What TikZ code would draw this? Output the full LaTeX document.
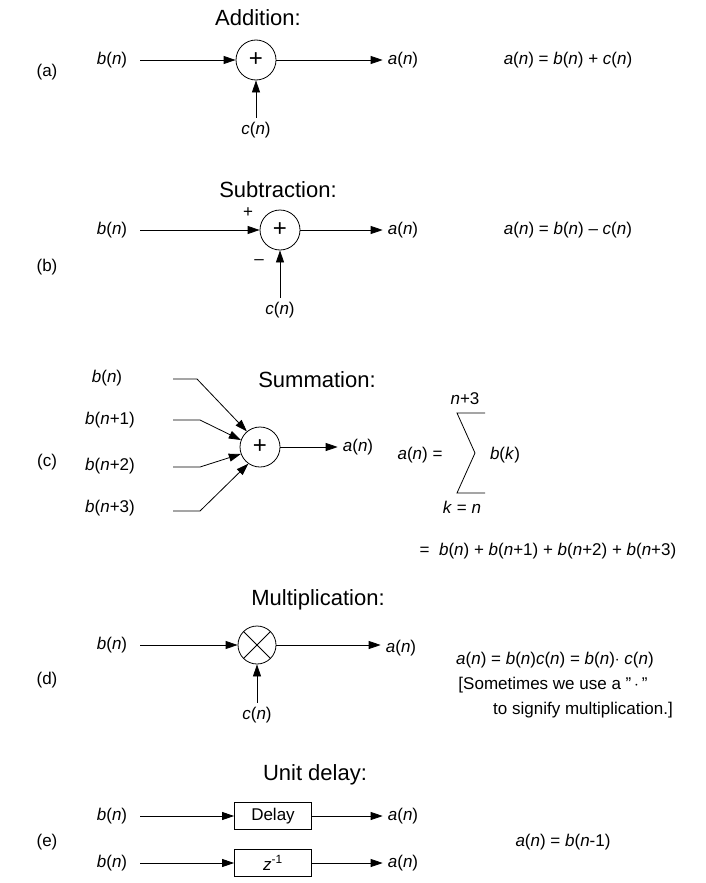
\documentclass[tikz,border=0pt]{standalone}
\usepackage{fontspec}
\setmainfont{Liberation Sans}
\usetikzlibrary{arrows.meta}
\newcommand{\vi}[1]{\textit{#1}}
\newcommand{\eqs}{\ =\ }
\newcommand{\pls}{\ +\ }
\begin{document}
\begin{tikzpicture}[x=1pt,y=-1pt,
 lbl/.style={font=\fontsize{17}{20}\selectfont,inner sep=1pt},
 ttl/.style={font=\fontsize{22}{24}\selectfont,inner sep=1pt},
 sumc/.style={circle,draw,minimum size=40pt,inner sep=0pt,font=\fontsize{24}{24}\selectfont,line width=0.8pt},
 mulc/.style={circle,draw,minimum size=38pt,inner sep=0pt,line width=0.8pt,
   path picture={\draw[line width=0.8pt] (path picture bounding box.south west)--(path picture bounding box.north east)
     (path picture bounding box.north west)--(path picture bounding box.south east);}},
 dbox/.style={draw,minimum width=77pt,minimum height=27pt,inner sep=0pt,font=\fontsize{17}{20}\selectfont,line width=0.8pt},
 arr/.style={-{Triangle[length=12pt,width=8pt]},line width=0.8pt},
 ln/.style={line width=0.8pt}]
\useasboundingbox (0,0) rectangle (706,883);
% (a)
\node[ttl] (ta) at (258,18) {Addition:};
\node[sumc] (sa) at (256,60) {+};
\node[lbl] (ba) at (112,60) {\vi{b}(\vi{n})};
\node[lbl] (aa) at (403,60) {\vi{a}(\vi{n})};
\node[lbl] (ca) at (256,130) {\vi{c}(\vi{n})};
\node[lbl] (la) at (47,72) {(a)};
\node[lbl] (ea) at (568,60) {\vi{a}(\vi{n})\eqs\vi{b}(\vi{n})\pls\vi{c}(\vi{n})};
\draw[arr] (ba.east)++(12,0) -- (sa);
\draw[arr] (sa) -- ([xshift=-4pt]aa.west);
\draw[arr] ([yshift=3pt]ca.north) -- (sa);
% (b)
\node[ttl] (tb) at (278,190) {Subtraction:};
\node[sumc] (sb) at (280,230) {+};
\node[lbl] (bb) at (112,230) {\vi{b}(\vi{n})};
\node[lbl] (ab) at (403,230) {\vi{a}(\vi{n})};
\node[lbl] (cb) at (280,310) {\vi{c}(\vi{n})};
\node[lbl] (pb) at (248,213) {+};
\node[lbl] (mb) at (259,262) {\textendash};
\node[lbl] (lb) at (47,267) {(b)};
\node[lbl] (eb) at (568,230) {\vi{a}(\vi{n})\eqs\vi{b}(\vi{n})\ \textendash\ \vi{c}(\vi{n})};
\draw[arr] (bb.east)++(12,0) -- (sb);
\draw[arr] (sb) -- ([xshift=-4pt]ab.west);
\draw[arr] ([yshift=3pt]cb.north) -- (sb);
% (c)
\node[ttl] (tc) at (317,380) {Summation:};
\node[sumc] (sc) at (260,447) {+};
\node[lbl] (c0) at (107,378) {\vi{b}(\vi{n})};
\node[lbl] (c1) at (110,420) {\vi{b}(\vi{n}+1)};
\node[lbl] (c2) at (110,466) {\vi{b}(\vi{n}+2)};
\node[lbl] (c3) at (110,508) {\vi{b}(\vi{n}+3)};
\node[lbl] (ac) at (358,447) {\vi{a}(\vi{n})};
\node[lbl] (lc) at (47,462) {(c)};
\coordinate (k0) at (173,379); \coordinate (j0) at (197,379);
\coordinate (k1) at (173,420); \coordinate (j1) at (200,420);
\coordinate (k2) at (173,467); \coordinate (j2) at (200,467);
\coordinate (k3) at (173,511); \coordinate (j3) at (200,511);
\draw[arr] (k0) -- (j0) -- (sc.130);
\draw[arr] (k1) -- (j1) -- (sc.160);
\draw[arr] (k2) -- (j2) -- (sc.200);
\draw[arr] (k3) -- (j3) -- (sc.235);
\draw[arr] (sc) -- ([xshift=-4pt]ac.west);
\node[lbl] (ec) at (420,455) {\vi{a}(\vi{n})\eqs};
\coordinate (s1) at (485,413); \coordinate (s2) at (457,413);
\coordinate (s3) at (475,453); \coordinate (s4) at (457,493); \coordinate (s5) at (485,493);
\draw[ln] (s1) -- (s2) -- (s3) -- (s4) -- (s5);
\node[lbl] (up) at (465,399) {\vi{n}+3};
\node[lbl] (dn) at (462,507) {\vi{k}\eqs\vi{n}};
\node[lbl] (bk) at (505,455) {\vi{b}(\vi{k})};
\node[lbl] (ec2) at (548,551) {=\ \ \vi{b}(\vi{n})\pls\vi{b}(\vi{n}+1)\pls\vi{b}(\vi{n}+2)\pls\vi{b}(\vi{n}+3)};
% (d)
\node[ttl] (td) at (318,600) {Multiplication:};
\node[mulc] (sd) at (257,645) {};
\node[lbl] (bd) at (112,645) {\vi{b}(\vi{n})};
\node[lbl] (ad) at (401,648) {\vi{a}(\vi{n})};
\node[lbl] (cd) at (257,715) {\vi{c}(\vi{n})};
\node[lbl] (ld) at (47,680) {(d)};
\node[lbl] (ed1) at (555,660) {\vi{a}(\vi{n})\eqs\vi{b}(\vi{n})\vi{c}(\vi{n})\eqs\vi{b}(\vi{n})$\cdot$\ \vi{c}(\vi{n})};
\node[lbl] (ed2) at (553,685) {[Sometimes we use a "\,$\cdot$\,"};
\node[lbl] (ed3) at (583,710) {to signify multiplication.]};
\draw[arr] (bd.east)++(12,0) -- (sd);
\draw[arr] (sd) -- ([xshift=-4pt]ad.west|-sd);
\draw[arr] ([yshift=3pt]cd.north) -- (sd);
% (e)
\node[ttl] (te) at (315,775) {Unit delay:};
\node[dbox] (d1) at (273,816) {Delay};
\node[dbox] (d2) at (273,863) {\vi{z}\textsuperscript{-1}};
\node[lbl] (be1) at (112,816) {\vi{b}(\vi{n})};
\node[lbl] (ae1) at (403,816) {\vi{a}(\vi{n})};
\node[lbl] (be2) at (112,863) {\vi{b}(\vi{n})};
\node[lbl] (ae2) at (403,863) {\vi{a}(\vi{n})};
\node[lbl] (le) at (47,842) {(e)};
\node[lbl] (ee) at (563,842) {\vi{a}(\vi{n})\eqs\vi{b}(\vi{n}-1)};
\draw[arr] (be1.east)++(12,0) -- (d1);
\draw[arr] (d1) -- ([xshift=-4pt]ae1.west);
\draw[arr] (be2.east)++(12,0) -- (d2);
\draw[arr] (d2) -- ([xshift=-4pt]ae2.west);
\end{tikzpicture}
\end{document}
